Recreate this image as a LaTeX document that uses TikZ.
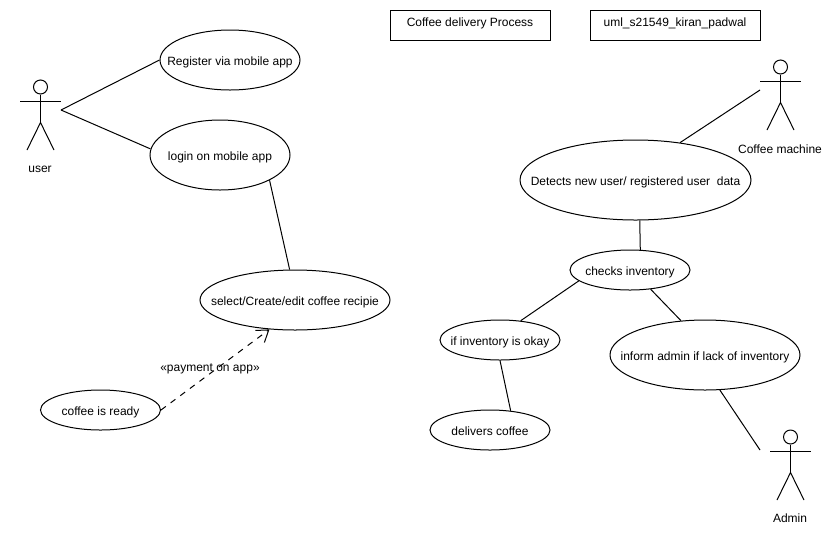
\documentclass[tikz,border=0pt]{standalone}
\usepackage{fontspec}
\setmainfont{Liberation Sans}
\usepackage{tikz}
\usetikzlibrary{arrows.meta, positioning, calc, shapes.geometric}

\begin{document}
\begin{tikzpicture}[
    x=1pt, y=-1pt,
    font=\fontsize{12}{14}\selectfont,
    line width=1pt,
    usecase/.style={draw, ellipse, inner sep=-40pt, text height=10.4pt, text depth=0pt},
    titlebox/.style={draw, minimum height=30pt, inner sep=0pt, text height=9pt, text depth=5.6pt},
    link/.style={draw},
    dep/.style={dash pattern=on 6pt off 6pt, -{Straight Barb[length=11pt,width=15pt]}},
    actor/.pic={
      \node[draw, circle, minimum size=14pt, inner sep=0pt] (-head) at (0,-14) {};
      \coordinate (-hip) at (0,21.5);
      \draw (-head) -- (-hip);
      \draw (-20.5,0) -- (20.5,0);
      \draw (-13.5,49) -- (-hip) -- (13.5,49);
    }]
    \useasboundingbox (0,0) rectangle (840,550);
    % left side
    \node[usecase, minimum width=140pt, minimum height=60pt] (reg) at (230,60)  {Register via mobile app};
    \node[usecase, minimum width=140pt, minimum height=70pt] (log) at (220,155) {login on mobile app};
    \node[usecase, minimum width=190pt, minimum height=60pt] (sel) at (295,300) {select/Create/edit coffee recipie};
    \node[usecase, minimum width=120pt, minimum height=40pt] (rdy) at (100.5,410) {coffee is ready};
    % right side
    \node[usecase, minimum width=231pt, minimum height=80pt] (det) at (635.5,180) {Detects new user/ registered user\ \ data};
    \node[usecase, minimum width=120pt, minimum height=40pt] (chk) at (630,270) {checks inventory};
    \node[usecase, minimum width=120pt, minimum height=40pt] (okk) at (500,340) {if inventory is okay};
    \node[usecase, minimum width=120pt, minimum height=40pt] (del) at (490,430) {delivers coffee};
    \node[usecase, minimum width=190pt, minimum height=70pt] (inf) at (705,355) {inform admin if lack of inventory};
    % titles
    \node[titlebox, minimum width=160pt] (ttl) at (470,25) {Coffee delivery Process};
    \node[titlebox, minimum width=170pt] (uml) at (675,25) {uml\_s21549\_kiran\_padwal};
    % actors
    \pic (usr) at (40.5,101) {actor};
    \pic (mch) at (780.5,81) {actor};
    \pic (adm) at (790.5,451) {actor};
    \node (usrl) at (40,169)  {user};
    \node (mchl) at (780,149) {Coffee machine};
    \node (adml) at (790,518) {Admin};
    \coordinate (usrc) at (61,110);
    \coordinate (mchc) at (760,90);
    \coordinate (admc) at (760,450);
    % links
    \draw[link] (usrc) -- (reg.west);
    \draw[link] (usrc) -- (log.175);
    \draw[link] (log.-27) -- (sel.100);
    \draw[dep] (rdy.east) -- (sel.-131);
    \node (pay) at (210,369) {«payment on app»};
    \draw[link] (mchc) -- (det.40);
    \draw[link] (det.-84) -- (chk.63);
    \draw[link] (chk.192) -- (okk.43);
    \draw[link] (chk.-43) -- (inf.125);
    \draw[link] (okk.-90) -- (del.43);
    \draw[link] (inf.-67) -- (admc);
\end{tikzpicture}
\end{document}
